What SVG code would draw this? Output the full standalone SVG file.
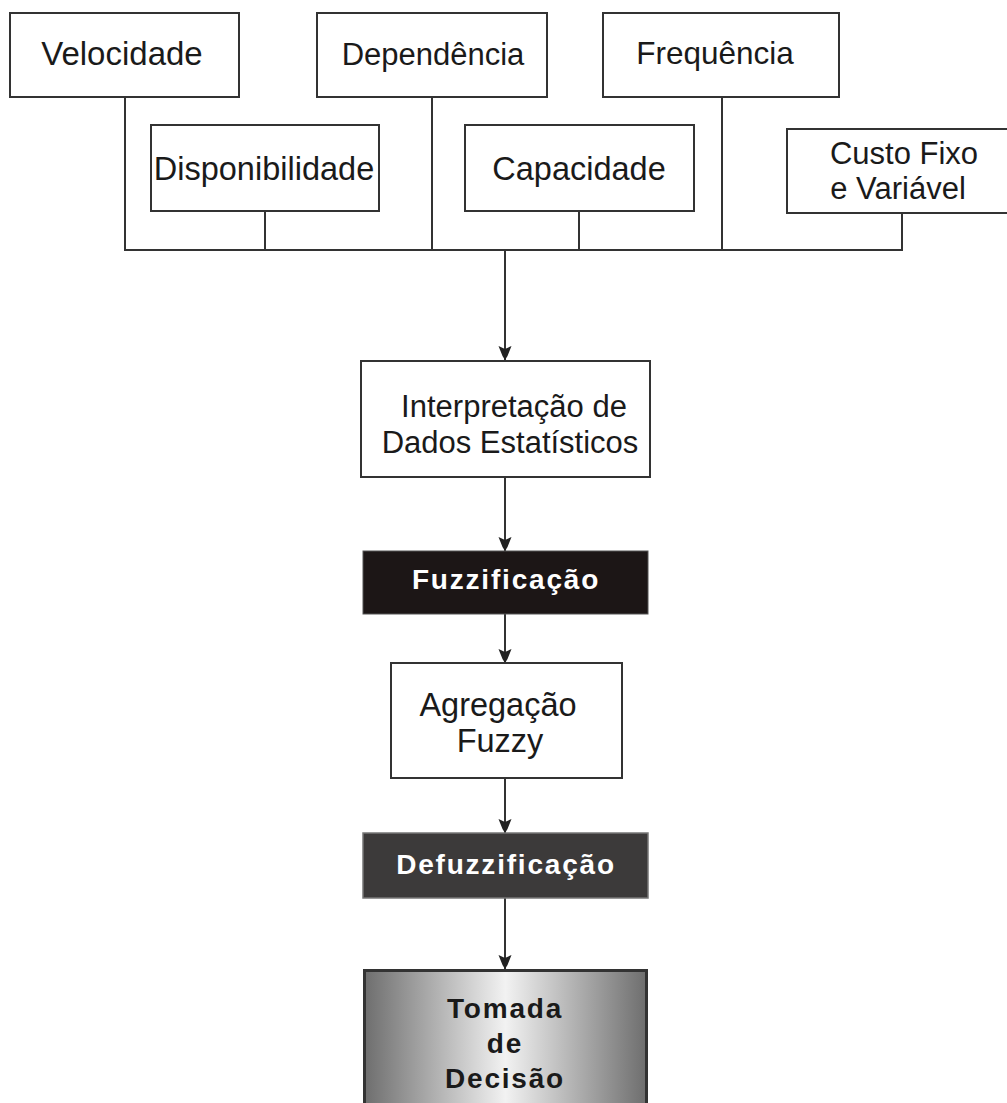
<svg xmlns="http://www.w3.org/2000/svg" width="1007" height="1103" viewBox="0 0 1007 1103">
<style>
.box{fill:#fff;stroke:#333;stroke-width:2}
.t{font-family:"Liberation Sans",Arial,sans-serif;font-size:31px;fill:#1a1a1a;text-anchor:middle}
.b{font-family:"Liberation Sans",Arial,sans-serif;font-size:28px;font-weight:bold;text-anchor:middle;letter-spacing:1.8px}
.ln{fill:none;stroke:#333;stroke-width:2}
</style>
<defs>
<marker id="arr" markerUnits="userSpaceOnUse" markerWidth="16" markerHeight="16" viewBox="-15 -8 16 16" refX="0" refY="0" orient="auto">
<path d="M0,0 L-4,-2.5 L-14,-6.5 L-11,0 L-14,6.5 L-4,2.5 Z" fill="#222"/>
</marker>
<linearGradient id="grad" x1="0" y1="0" x2="1" y2="0">
<stop offset="0" stop-color="#6e6e6e"/>
<stop offset="0.5" stop-color="#f2f2f2"/>
<stop offset="1" stop-color="#6e6e6e"/>
</linearGradient>
</defs>
<rect width="1007" height="1103" fill="#fff"/>
<g id="connectors">
<polyline class="ln" points="125,97 125,250 902,250 902,213"/>
<line class="ln" x1="265" y1="211" x2="265" y2="250"/>
<line class="ln" x1="432" y1="97" x2="432" y2="250"/>
<line class="ln" x1="579" y1="211" x2="579" y2="250"/>
<line class="ln" x1="722" y1="97" x2="722" y2="250"/>
<line class="ln" x1="505" y1="250" x2="505" y2="360" marker-end="url(#arr)"/>
<line class="ln" x1="505" y1="477" x2="505" y2="551" marker-end="url(#arr)"/>
<line class="ln" x1="505" y1="614" x2="505" y2="663" marker-end="url(#arr)"/>
<line class="ln" x1="505" y1="778" x2="505" y2="833" marker-end="url(#arr)"/>
<line class="ln" x1="505" y1="898" x2="505" y2="969" marker-end="url(#arr)"/>
</g>
<g id="velocidade">
<rect class="box" x="10" y="13" width="229" height="84"/>
<text class="t" x="122" y="65" style="font-size:33px">Velocidade</text>
</g>
<g id="dependencia">
<rect class="box" x="317" y="13" width="230" height="84"/>
<text class="t" x="433" y="65">Dependência</text>
</g>
<g id="frequencia">
<rect class="box" x="603" y="13" width="236" height="84"/>
<text class="t" x="715" y="64" style="font-size:31.5px">Frequência</text>
</g>
<g id="disponibilidade">
<rect class="box" x="151" y="125" width="228" height="86"/>
<text class="t" x="264" y="180" style="font-size:32.5px">Disponibilidade</text>
</g>
<g id="capacidade">
<rect class="box" x="465" y="125" width="229" height="86"/>
<text class="t" x="579" y="180" style="font-size:32.5px">Capacidade</text>
</g>
<g id="custo">
<rect class="box" x="787" y="129" width="222" height="84"/>
<text class="t" x="904" y="164">Custo Fixo</text>
<text class="t" x="898" y="199">e Variável</text>
</g>
<g id="interpretacao">
<rect class="box" x="361" y="361" width="289" height="116"/>
<text class="t" x="514" y="417">Interpretação de</text>
<text class="t" x="510" y="453">Dados Estatísticos</text>
</g>
<g id="fuzzificacao">
<rect x="363" y="551" width="285" height="63" fill="#1c1616" stroke="#555" stroke-width="1"/>
<text class="b" x="506" y="589" fill="#fff">Fuzzificação</text>
</g>
<g id="agregacao">
<rect class="box" x="391" y="663" width="231" height="115"/>
<text class="t" x="498" y="716" style="font-size:32.5px">Agregação</text>
<text class="t" x="500" y="752" style="font-size:32.5px">Fuzzy</text>
</g>
<g id="defuzzificacao">
<rect x="363" y="833" width="285" height="65" fill="#3c3a3a" stroke="#777" stroke-width="1.5"/>
<text class="b" x="506" y="874" fill="#fff">Defuzzificação</text>
</g>
<g id="tomada">
<rect x="364.5" y="970.5" width="282" height="140" fill="url(#grad)" stroke="#333" stroke-width="3"/>
<text class="b" x="505" y="1018" fill="#1a1a1a">Tomada</text>
<text class="b" x="505" y="1053" fill="#1a1a1a">de</text>
<text class="b" x="505" y="1088" fill="#1a1a1a">Decisão</text>
</g>
</svg>
